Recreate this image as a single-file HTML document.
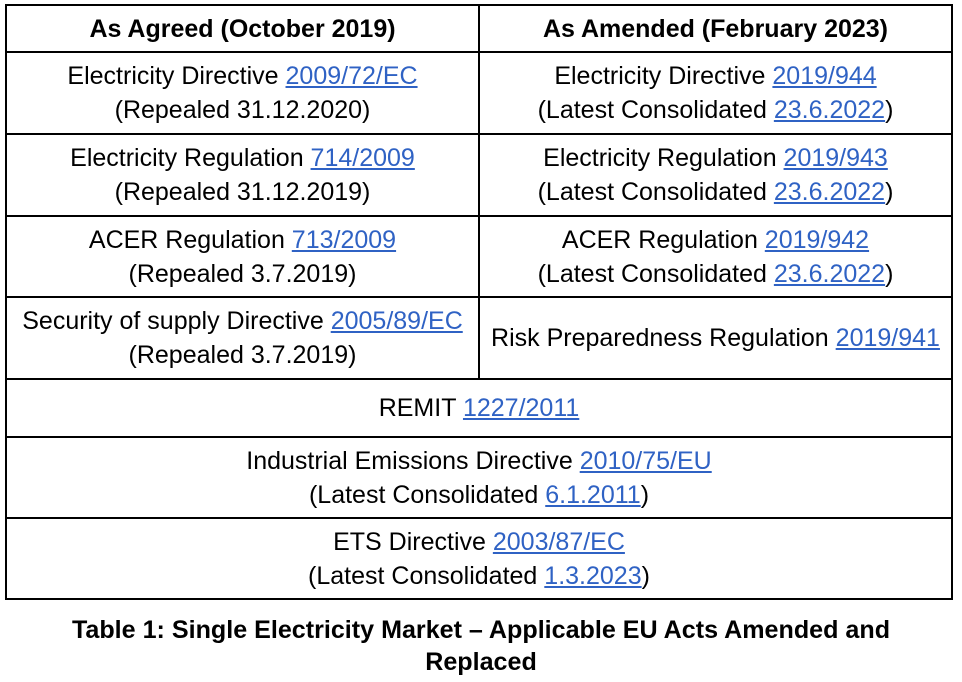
<!DOCTYPE html>
<html><head><meta charset="utf-8"><style>
body{margin:0;background:#fff;width:962px;height:682px;position:relative;overflow:hidden;font-family:"Liberation Sans",Arial,sans-serif;color:#000}
.c{position:absolute;box-sizing:border-box;display:flex;flex-direction:column;justify-content:center;align-items:center;text-align:center;font-size:25px;line-height:34px;white-space:nowrap}
.h{font-weight:bold;font-size:25px}
a{color:#2f62c4;text-decoration:underline}
.l{position:absolute;background:#000}
.cap{position:absolute;left:0;width:962px;text-align:center;font-weight:bold;font-size:25.1px;line-height:32px;top:614px;white-space:nowrap}
</style></head><body>
<div class="l" style="left:5px;top:4px;width:2px;height:596px"></div>
<div class="l" style="left:951px;top:4px;width:2px;height:596px"></div>
<div class="l" style="left:478px;top:4px;width:2px;height:375px"></div>
<div class="l" style="left:5px;top:4px;width:948px;height:2px"></div>
<div class="l" style="left:5px;top:51px;width:948px;height:2px"></div>
<div class="l" style="left:5px;top:133px;width:948px;height:2px"></div>
<div class="l" style="left:5px;top:215px;width:948px;height:2px"></div>
<div class="l" style="left:5px;top:296px;width:948px;height:2px"></div>
<div class="l" style="left:5px;top:378px;width:948px;height:2px"></div>
<div class="l" style="left:5px;top:436px;width:948px;height:2px"></div>
<div class="l" style="left:5px;top:517px;width:948px;height:2px"></div>
<div class="l" style="left:5px;top:598px;width:948px;height:2px"></div>

<div class="c h" style="left:7px;top:6px;width:471px;height:45px">As Agreed (October 2019)</div>
<div class="c h" style="left:480px;top:6px;width:471px;height:45px">As Amended (February 2023)</div>

<div class="c" style="left:7px;top:53px;width:471px;height:80px"><div>Electricity Directive <a>2009/72/EC</a></div><div>(Repealed 31.12.2020)</div></div>
<div class="c" style="left:480px;top:53px;width:471px;height:80px"><div>Electricity Directive <a>2019/944</a></div><div>(Latest Consolidated <a>23.6.2022</a>)</div></div>

<div class="c" style="left:7px;top:135px;width:471px;height:80px"><div>Electricity Regulation <a>714/2009</a></div><div>(Repealed 31.12.2019)</div></div>
<div class="c" style="left:480px;top:135px;width:471px;height:80px"><div>Electricity Regulation <a>2019/943</a></div><div>(Latest Consolidated <a>23.6.2022</a>)</div></div>

<div class="c" style="left:7px;top:217px;width:471px;height:79px"><div>ACER Regulation <a>713/2009</a></div><div>(Repealed 3.7.2019)</div></div>
<div class="c" style="left:480px;top:217px;width:471px;height:79px"><div>ACER Regulation <a>2019/942</a></div><div>(Latest Consolidated <a>23.6.2022</a>)</div></div>

<div class="c" style="left:7px;top:298px;width:471px;height:80px"><div>Security of supply Directive <a>2005/89/EC</a></div><div>(Repealed 3.7.2019)</div></div>
<div class="c" style="left:480px;top:298px;width:471px;height:80px"><div>Risk Preparedness Regulation <a>2019/941</a></div></div>

<div class="c" style="left:7px;top:380px;width:944px;height:56px"><div>REMIT <a>1227/2011</a></div></div>
<div class="c" style="left:7px;top:438px;width:944px;height:79px"><div>Industrial Emissions Directive <a>2010/75/EU</a></div><div>(Latest Consolidated <a>6.1.2011</a>)</div></div>
<div class="c" style="left:7px;top:519px;width:944px;height:79px"><div>ETS Directive <a>2003/87/EC</a></div><div>(Latest Consolidated <a>1.3.2023</a>)</div></div>

<div class="cap">Table 1: Single Electricity Market – Applicable EU Acts Amended and<br>Replaced</div>
</body></html>
